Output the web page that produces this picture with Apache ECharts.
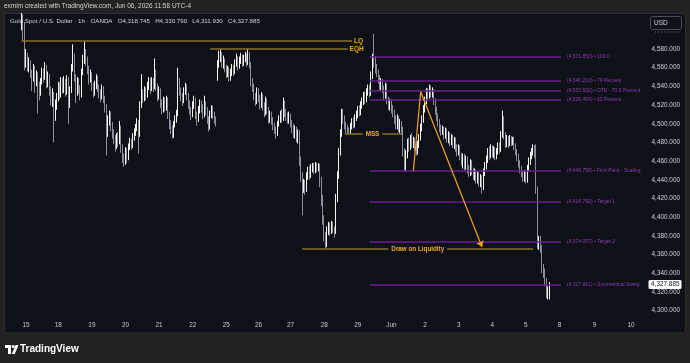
<!DOCTYPE html>
<html>
<head>
<meta charset="UTF-8">
<title>Gold Spot / U.S. Dollar - 1h</title>
<script src="https://cdn.jsdelivr.net/npm/echarts@6/dist/echarts.min.js"></script>
<style>
html, body { margin: 0; padding: 0; background: #222222; }
#chart { width: 690px; height: 363px; }
</style>
</head>
<body>
<div id="chart"></div>
<script>
// hourly candles [open, close, low, high]
const week1 = [ // May 14 evening .. May 22
  [4604,4614,4600,4620],[4614,4592,4588,4617],[4592,4568,4557,4609],[4568,4574,4560,4580],[4574,4561,4556,4576],
  [4561,4566,4555,4571],[4566,4554,4549,4568],[4554,4547,4535,4558],[4547,4560,4545,4564],[4560,4543,4533,4562],
  [4543,4552,4540,4557],[4552,4537,4511,4555],[4537,4533,4525,4545],[4533,4546,4530,4549],[4546,4556,4542,4560],
  [4556,4549,4544,4559],[4549,4561,4547,4566],[4561,4544,4538,4563],[4544,4551,4539,4556],[4551,4535,4530,4553],
  [4535,4528,4520,4540],[4528,4531,4518,4538],[4531,4508,4480,4534],[4508,4521,4503,4526],[4521,4528,4515,4533],
  [4528,4541,4524,4545],[4541,4530,4526,4544],[4530,4546,4528,4550],[4546,4537,4532,4549],[4537,4545,4533,4551],
  [4545,4534,4529,4548],[4534,4548,4531,4552],[4548,4521,4500,4550],[4521,4536,4517,4540],[4536,4560,4533,4564],
  [4560,4572,4556,4585],[4572,4550,4545,4575],[4550,4535,4522,4553],[4535,4546,4530,4550],[4546,4538,4532,4549],
  [4538,4530,4525,4541],[4530,4556,4528,4559],[4556,4568,4552,4574],[4568,4577,4564,4588],[4577,4569,4562,4580],
  [4569,4559,4553,4572],[4559,4547,4542,4562],[4547,4553,4544,4558],[4553,4540,4535,4555],[4540,4534,4528,4544],
  [4534,4541,4530,4546],[4541,4549,4537,4553],[4549,4539,4534,4551],[4539,4534,4527,4542],[4534,4529,4523,4537],
  [4529,4538,4526,4542],[4538,4527,4522,4540],[4527,4519,4512,4530],[4519,4490,4466,4521],[4490,4504,4486,4509],
  [4504,4511,4498,4514],[4511,4498,4492,4513],[4498,4490,4484,4502],[4490,4484,4478,4494],[4484,4477,4470,4488],
  [4477,4486,4473,4490],[4486,4481,4475,4491],[4481,4496,4478,4503],[4496,4475,4469,4498],[4475,4464,4458,4478],
  [4464,4459,4454,4468],[4459,4471,4456,4475],[4471,4464,4458,4474],[4464,4475,4461,4479],[4475,4481,4472,4485],
  [4481,4477,4472,4484],[4477,4486,4474,4490],[4486,4491,4482,4495],[4491,4496,4487,4500],[4496,4501,4492,4506],
  [4501,4489,4468,4504],[4489,4520,4486,4524],[4520,4533,4517,4553],[4533,4527,4522,4537],[4527,4536,4524,4540],
  [4536,4530,4525,4539],[4530,4541,4528,4545],[4541,4546,4536,4550],[4546,4537,4532,4549],[4537,4546,4535,4550],
  [4546,4540,4534,4549],[4540,4556,4537,4570],[4556,4540,4535,4558],[4540,4530,4524,4543],[4530,4536,4526,4540],
  [4536,4522,4517,4538],[4522,4515,4510,4526],[4515,4525,4512,4529],[4525,4518,4513,4528],[4518,4526,4514,4530],
  [4526,4510,4505,4528],[4510,4500,4494,4513],[4500,4495,4489,4504],[4495,4488,4484,4498],[4488,4500,4485,4503],
  [4500,4505,4496,4509],[4505,4511,4501,4515],[4511,4545,4508,4560],[4545,4535,4530,4549],[4535,4530,4524,4539],
  [4530,4525,4519,4533],[4525,4535,4522,4539],[4535,4540,4531,4544],[4540,4530,4525,4542],[4530,4522,4516,4533],
  [4522,4515,4510,4525],[4515,4510,4504,4518],[4510,4520,4507,4524],[4520,4526,4516,4530],[4526,4510,4505,4528],
  [4510,4505,4498,4513],[4505,4515,4502,4519],[4515,4522,4511,4526],[4522,4518,4512,4525],[4518,4510,4505,4521],
  [4510,4521,4507,4530],[4521,4515,4509,4524],[4515,4505,4500,4518],[4505,4496,4492,4508],[4496,4510,4494,4514],
  [4510,4516,4506,4520],[4516,4510,4505,4519],[4510,4505,4500,4513],[4505,4501,4497,4508]
];
const week2 = [ // May 24 evening .. May 29
  [4548,4565,4546,4568],[4565,4571,4560,4578],[4571,4575,4566,4580],[4575,4565,4560,4577],[4565,4568,4559,4573],
  [4568,4560,4555,4570],[4560,4555,4549,4563],[4555,4558,4550,4562],[4558,4550,4545,4561],[4550,4555,4546,4559],
  [4555,4560,4551,4564],[4560,4556,4551,4563],[4556,4565,4553,4569],[4565,4570,4561,4575],[4570,4562,4557,4572],
  [4562,4568,4559,4572],[4568,4572,4564,4576],[4572,4565,4561,4574],[4565,4570,4562,4574],[4570,4572,4566,4577],
  [4572,4566,4561,4575],[4566,4574,4563,4580],[4574,4564,4559,4577],[4564,4545,4540,4566],[4545,4540,4534,4549],
  [4540,4530,4525,4543],[4530,4524,4519,4533],[4524,4535,4521,4539],[4535,4528,4523,4538],[4528,4520,4515,4531],
  [4520,4530,4517,4534],[4530,4520,4514,4532],[4520,4512,4507,4523],[4512,4525,4509,4529],[4525,4515,4510,4527],
  [4515,4505,4500,4518],[4505,4510,4501,4514],[4510,4504,4499,4513],[4504,4498,4493,4507],[4498,4494,4489,4501],
  [4494,4490,4484,4497],[4490,4500,4487,4503],[4500,4505,4497,4509],[4505,4510,4501,4514],[4510,4506,4501,4516],
  [4506,4522,4503,4528],[4522,4512,4507,4525],[4512,4508,4503,4516],[4508,4504,4500,4512],[4504,4509,4500,4513],
  [4509,4501,4496,4511],[4501,4496,4490,4504],[4496,4489,4485,4500],[4489,4494,4484,4498],[4494,4485,4480,4497],
  [4485,4490,4479,4494],[4490,4460,4455,4493],[4460,4445,4438,4465],[4445,4432,4402,4448],[4432,4436,4426,4441],
  [4436,4430,4424,4440],[4430,4444,4427,4448],[4444,4450,4440,4454],[4450,4445,4440,4455],[4445,4452,4442,4457],
  [4452,4455,4448,4458],[4455,4450,4446,4458],[4450,4456,4447,4459],[4456,4453,4448,4458],[4453,4455,4449,4458],
  [4455,4440,4432,4457],[4440,4420,4412,4443],[4420,4398,4392,4424],[4398,4380,4374,4402],[4380,4372,4366,4384],
  [4372,4385,4368,4390],[4385,4390,4381,4395],[4390,4386,4380,4394],[4386,4392,4382,4396],[4392,4387,4383,4395],
  [4387,4384,4378,4390],[4384,4420,4382,4425],[4420,4445,4416,4449],[4445,4470,4441,4474],[4470,4490,4466,4494],
  [4490,4512,4486,4516],[4512,4505,4500,4516],[4505,4498,4494,4509],[4498,4495,4490,4502],[4495,4493,4489,4499],
  [4493,4491,4489,4496],[4491,4497,4489,4501],[4497,4502,4494,4506],[4502,4498,4495,4507],[4498,4506,4496,4510],
  [4506,4510,4503,4514],[4510,4515,4506,4519],[4515,4512,4508,4520],[4512,4520,4509,4524],[4520,4523,4516,4528],
  [4523,4530,4520,4534],[4530,4526,4521,4535],[4526,4534,4523,4538],[4534,4538,4530,4542],[4538,4532,4528,4542],
  [4532,4552,4530,4556],[4552,4570,4548,4575],[4570,4566,4560,4596],[4566,4560,4554,4572],[4560,4555,4550,4564],
  [4555,4548,4543,4558],[4548,4540,4535,4552],[4540,4545,4536,4549]
];
const week3 = [ // May 31 evening .. Jun 5
  [4545,4538,4533,4548],[4538,4530,4526,4541],[4530,4540,4527,4544],[4540,4526,4521,4543],[4526,4520,4515,4529],
  [4520,4523,4514,4527],[4523,4516,4511,4526],[4516,4512,4507,4520],[4512,4505,4500,4515],[4505,4498,4494,4509],
  [4498,4506,4494,4510],[4506,4496,4491,4508],[4496,4500,4490,4505],[4500,4494,4488,4503],[4494,4470,4465,4497],
  [4470,4452,4449,4474],[4452,4468,4449,4472],[4468,4480,4463,4484],[4480,4475,4470,4485],[4475,4484,4472,4488],
  [4484,4479,4474,4490],[4479,4482,4474,4486],[4482,4476,4471,4485],[4476,4470,4466,4480],[4470,4478,4467,4482],
  [4478,4485,4474,4489],[4485,4496,4482,4500],[4496,4505,4492,4509],[4505,4516,4501,4520],[4516,4525,4512,4529],
  [4525,4534,4521,4538],[4534,4530,4526,4538],[4530,4538,4527,4542],[4538,4532,4528,4541],[4532,4535,4528,4539],
  [4535,4524,4520,4537],[4524,4515,4510,4527],[4515,4508,4503,4518],[4508,4502,4497,4511],[4502,4496,4491,4505],
  [4496,4492,4487,4499],[4492,4495,4488,4498],[4495,4487,4483,4497],[4487,4492,4484,4496],[4492,4484,4480,4495],
  [4484,4488,4479,4492],[4488,4481,4476,4491],[4481,4485,4477,4489],[4485,4478,4474,4488],[4478,4482,4473,4486],
  [4482,4475,4470,4485],[4475,4470,4465,4478],[4470,4474,4466,4478],[4474,4466,4461,4477],[4466,4460,4455,4469],
  [4460,4465,4452,4468],[4465,4455,4450,4468],[4455,4462,4451,4466],[4462,4452,4447,4465],[4452,4447,4443,4456],
  [4447,4458,4444,4462],[4458,4450,4445,4461],[4450,4444,4440,4453],[4444,4448,4439,4452],[4448,4440,4436,4451],
  [4440,4445,4436,4449],[4445,4438,4433,4448],[4438,4442,4432,4446],[4442,4432,4425,4445],[4432,4448,4429,4452],
  [4448,4455,4444,4459],[4455,4462,4451,4466],[4462,4470,4458,4474],[4470,4466,4461,4476],[4466,4474,4463,4478],
  [4474,4468,4464,4477],[4468,4472,4463,4476],[4472,4465,4461,4475],[4465,4470,4462,4474],[4470,4476,4467,4480],
  [4476,4472,4468,4480],[4472,4488,4470,4492],[4488,4505,4485,4514],[4505,4488,4483,4508],[4488,4478,4474,4491],
  [4478,4484,4475,4488],[4484,4479,4474,4487],[4479,4484,4476,4488],[4484,4480,4476,4487],[4480,4483,4477,4486],
  [4483,4476,4472,4486],[4476,4470,4466,4479],[4470,4465,4460,4473],[4465,4458,4453,4468],[4458,4452,4447,4461],
  [4452,4447,4443,4455],[4447,4442,4438,4450],[4442,4446,4438,4450],[4446,4440,4436,4449],[4440,4452,4437,4456],
  [4452,4460,4449,4464],[4460,4466,4456,4470],[4466,4470,4462,4474],[4470,4474,4466,4478],[4474,4468,4463,4477],
  [4472,4430,4425,4478],[4430,4372,4366,4433],[4372,4376,4365,4380],[4376,4368,4362,4380],[4368,4345,4340,4370],
  [4345,4340,4335,4350],[4340,4332,4326,4345],[4332,4318,4313,4335],[4318,4319,4312,4326],[4318.745,4327.885,4311.93,4330.79]
];
const candles = week1.concat(week2, week3);

// date labels: bar index of each day start, and its text
const dayIdx = [3, 25, 48, 71, 94, 117, 140, 162, 184, 207, 230, 253, 276, 299, 322, 345, 368, 392, 417];
const dayText = ['15', '18', '19', '20', '21', '22', '25', '26', '27', '28', '29', 'Jun', '2', '3', '4', '5', '8', '9', '10'];
const slotCount = 427;

// fib / target levels drawn on the right
const fibLevels = [4571.850, 4546.210, 4535.832, 4525.454, 4449.756, 4416.790, 4374.057, 4327.661];
const fibNames = ['100.0', '79 Percent', 'OTE - 70.5 Percent', '62 Percent', 'First Point - Scaling', 'Target 1', 'Target 2', 'Symmetrical Swing'];
const fibFrom = 238, fibTo = 369;

// annotated liquidity levels
const keyNames = ['LQ', 'EQH', 'MSS', 'Draw on Liquidity'];
const keyPrices = [4588.6, 4579.8, 4489.2, 4365.9];
const keyFrom = [0, 129, 221, 192];
const keyTo = [226, 223, 260, 350];

// projection path (orange arrow)
const pathIdx = [268, 273, 315];
const pathPrice = [4449.756, 4534.3, 4368];

const last = candles[candles.length - 1];

const fmt = v => v.toLocaleString('en-US', { minimumFractionDigits: 3, maximumFractionDigits: 3 });

const categories = [];
const labelAt = {};
for (let i = 0; i < slotCount; i++) categories.push('b' + i);
dayIdx.forEach((d, k) => { labelAt[d] = dayText[k]; });

const FONT = 'Liberation Sans';
const GOLD_LINE = '#8a7226';
const GOLD_TEXT = '#f0ad1c';
const PURPLE = '#6c1d94';

const markLines = [];
fibLevels.forEach((v, k) => {
  markLines.push([
    { coord: [fibFrom, v], lineStyle: { color: PURPLE, width: 1.5, type: 'solid' },
      label: { show: true, position: 'end', distance: 6, formatter: '(' + fmt(v) + ') \u2022 ' + fibNames[k],
               color: '#8d3cb0', fontSize: 5, fontFamily: FONT } },
    { coord: [fibTo, v] }
  ]);
});
keyNames.forEach((n, k) => {
  const endLabel = k < 2;
  markLines.push([
    { coord: [keyFrom[k], keyPrices[k]], lineStyle: { color: GOLD_LINE, width: 1.5, type: 'solid' },
      label: { show: endLabel, position: 'end', distance: 2, formatter: n, color: GOLD_TEXT,
               fontSize: 6.5, fontWeight: 'bold', fontFamily: FONT } },
    { coord: [keyTo[k], keyPrices[k]] }
  ]);
});
for (let k = 0; k < pathIdx.length - 1; k++) {
  markLines.push([
    { coord: [pathIdx[k], pathPrice[k]], symbol: 'none', lineStyle: { color: '#f5a31a', width: 1.2, type: 'solid' }, label: { show: false } },
    { coord: [pathIdx[k + 1], pathPrice[k + 1]], symbol: k === pathIdx.length - 2 ? 'arrow' : 'none', symbolSize: 6 }
  ]);
}

const chart = echarts.init(document.getElementById('chart'));
chart.setOption({
  animation: false,
  backgroundColor: '#222222',
  grid: { left: 21, right: 45, top: 14, bottom: 43.1 },
  xAxis: {
    type: 'category',
    data: categories,
    boundaryGap: true,
    axisLine: { show: false },
    axisTick: { show: false },
    splitLine: { show: false },
    axisLabel: {
      interval: idx => labelAt[idx] !== undefined,
      formatter: (val, idx) => labelAt[idx] || '',
      color: '#c7cad3', fontSize: 6.4, fontFamily: FONT, margin: 2
    }
  },
  yAxis: {
    type: 'value',
    position: 'right',
    min: 4290, max: 4617.5, interval: 10,
    axisLine: { show: false },
    axisTick: { show: false },
    splitLine: { show: false },
    axisLabel: {
      formatter: v => (v % 20 === 0 && v >= 4300 && v <= 4580) ? fmt(v) : '',
      align: 'right', margin: 35,
      color: '#d1d4dc', fontSize: 6.4, fontFamily: FONT
    }
  },
  series: [{
    type: 'candlestick',
    data: candles,
    barWidth: 1,
    clip: true,
    itemStyle: { color: '#f2f2f2', color0: '#8b8e98', borderColor: '#f2f2f2', borderColor0: '#8b8e98', borderWidth: 1 },
    markLine: { silent: true, symbol: ['none', 'none'], data: markLines },
    markPoint: {
      silent: true,
      symbol: 'rect', symbolSize: 0,
      label: { show: true, position: 'inside', formatter: '{b}', color: GOLD_TEXT, fontSize: 6.3, fontWeight: 'bold',
               fontFamily: FONT, backgroundColor: '#0f1118', padding: [1, 3] },
      data: [
        { name: keyNames[2], coord: [240, keyPrices[2]] },
        { name: keyNames[3], coord: [271, keyPrices[3]] }
      ]
    }
  }]
});

const yLast = chart.convertToPixel({ yAxisIndex: 0 }, last[1]);
const legend = 'Gold Spot / U.S. Dollar \u00b7 1h \u00b7 OANDA   O' + fmt(last[0]) + '   H' + fmt(last[3]) +
  '   L' + fmt(last[2]) + '   C' + fmt(last[1]);

chart.setOption({
  graphic: [
    { type: 'rect', z: -10, shape: { x: 4.5, y: 13.5, width: 681, height: 319.5, r: 2 },
      style: { fill: '#0f1118', stroke: '#2c2f36', lineWidth: 1 } },
    { type: 'rect', z: 100, shape: { x: 0, y: 0, width: 690, height: 13 }, style: { fill: '#222222' } },
    { type: 'text', z: 101, x: 4, y: 6.5,
      style: { text: 'exmim created with TradingView.com, Jun 06, 2026 11:58 UTC-4', fill: '#d1d4dc',
               font: '6.5px "' + FONT + '"', textVerticalAlign: 'middle' } },
    { type: 'text', z: 101, x: 10, y: 21.5,
      style: { text: legend, fill: '#d1d4dc', font: '6.2px "' + FONT + '"', textVerticalAlign: 'middle' } },
    { type: 'rect', z: 101, shape: { x: 650.5, y: 16.5, width: 31, height: 13, r: 2 },
      style: { fill: '#0f1118', stroke: '#4a4d57', lineWidth: 1 } },
    { type: 'text', z: 102, x: 654, y: 23,
      style: { text: 'USD', fill: '#d1d4dc', font: '6.5px "' + FONT + '"', textVerticalAlign: 'middle' } },
    { type: 'line', z: 101, shape: { x1: 655, y1: 32, x2: 680, y2: 32 },
      style: { stroke: '#666', lineWidth: 1, lineDash: [1, 2] } },
    { type: 'rect', z: 101, shape: { x: 648.5, y: yLast - 4.5, width: 33, height: 9, r: 1.5 },
      style: { fill: '#ffffff' } },
    { type: 'text', z: 102, x: 679.5, y: yLast,
      style: { text: fmt(last[1]), fill: '#131722', font: '6.4px "' + FONT + '"', textAlign: 'right', textVerticalAlign: 'middle' } },
    // TradingView logo
    { type: 'rect', z: 101, shape: { x: 5, y: 345, width: 6, height: 3 }, style: { fill: '#ffffff' } },
    { type: 'rect', z: 101, shape: { x: 8, y: 345, width: 3, height: 9 }, style: { fill: '#ffffff' } },
    { type: 'circle', z: 101, shape: { cx: 13.2, cy: 346.5, r: 1.5 }, style: { fill: '#ffffff' } },
    { type: 'polygon', z: 101, shape: { points: [[15.5, 345], [18.5, 345], [14.8, 354], [11.8, 354]] }, style: { fill: '#ffffff' } },
    { type: 'text', z: 101, x: 20, y: 349.5,
      style: { text: 'TradingView', fill: '#ffffff', font: 'bold 10px "' + FONT + '"', textVerticalAlign: 'middle' } }
  ]
});
</script>
</body>
</html>
